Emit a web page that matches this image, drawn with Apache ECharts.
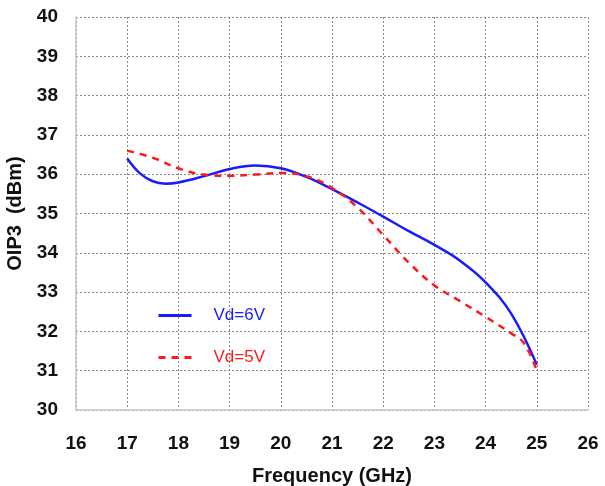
<!DOCTYPE html>
<html><head><meta charset="utf-8">
<script src="https://cdn.jsdelivr.net/npm/echarts@6/dist/echarts.min.js"></script>
<style>html,body{margin:0;padding:0;background:#fff}#c{width:605px;height:486px}</style>
</head><body><div id="c"></div>
<script>
const freq6 = [17,17.25,17.5,17.75,18,18.5,19,19.5,20,20.5,21,21.5,22,22.5,23,23.5,24,24.5,25];
const vd6   = [36.40,36.02,35.82,35.76,35.79,35.95,36.13,36.22,36.15,35.93,35.62,35.28,34.92,34.55,34.20,33.80,33.25,32.45,31.15];
const freq5 = [17,17.5,18,18.5,19,19.5,20,20.5,21,21.5,22,22.5,23,23.5,24,24.5,24.75,25];
const vd5   = [36.60,36.42,36.15,35.99,35.96,35.99,36.03,35.95,35.65,35.15,34.45,33.75,33.17,32.77,32.37,31.95,31.70,31.00];
const xTicks = [16,26,1];
const yTicks = [30,40,1];

const F = 'Liberation Sans, Arial, sans-serif';
const chart = echarts.init(document.getElementById('c'));
chart.setOption({
  animation:false,
  backgroundColor:'#fff',
  grid:{left:76,right:17,top:17,bottom:76,show:false,containLabel:false,outerBoundsMode:'none'},
  legend:{
    orient:'vertical', left:152, top:302, itemWidth:33, itemHeight:14, itemGap:25,
    itemStyle:{opacity:0}, lineStyle:{width:3},
    textStyle:{fontFamily:F,fontSize:17,padding:[5,0,0,17]},
    data:[{name:'Vd=6V',textStyle:{color:'#1a1aff'}},{name:'Vd=5V',textStyle:{color:'#ff1a1a'}}]
  },
  xAxis:{type:'value',min:xTicks[0],max:xTicks[1],interval:xTicks[2],
    name:'Frequency (GHz)',nameLocation:'middle',nameGap:56,
    nameTextStyle:{fontFamily:F,fontSize:20,fontWeight:'bold',color:'#111'},
    axisLine:{lineStyle:{color:'#c8c8c8',width:1.5}},axisTick:{show:false},
    axisLabel:{fontFamily:F,fontSize:19,fontWeight:'bold',color:'#111',margin:24},
    splitLine:{show:true,lineStyle:{color:'#888',type:[2,2],width:1}}},
  yAxis:{type:'value',min:yTicks[0],max:yTicks[1],interval:yTicks[2],
    name:'OIP3  (dBm)',nameLocation:'middle',nameGap:40,nameRotate:90,
    nameTextStyle:{fontFamily:F,fontSize:20,fontWeight:'bold',color:'#111'},
    axisLine:{show:true,lineStyle:{color:'#c8c8c8',width:1.5}},axisTick:{show:false},
    axisLabel:{fontFamily:F,fontSize:19,fontWeight:'bold',color:'#111',margin:18},
    splitLine:{show:true,lineStyle:{color:'#888',type:[2,2],width:1}}},
  series:[
    {name:'Vd=6V',type:'line',smooth:0.4,symbol:'none',data:freq6.map((f,i)=>[f,vd6[i]]),
     lineStyle:{color:'#1a1aff',width:2.5},itemStyle:{color:'#1a1aff'}},
    {name:'Vd=5V',type:'line',smooth:0.4,symbol:'none',data:freq5.map((f,i)=>[f,vd5[i]]),
     lineStyle:{color:'#ff1a1a',width:2.5,type:[7,6]},itemStyle:{color:'#ff1a1a'}}
  ]
});
</script></body></html>
